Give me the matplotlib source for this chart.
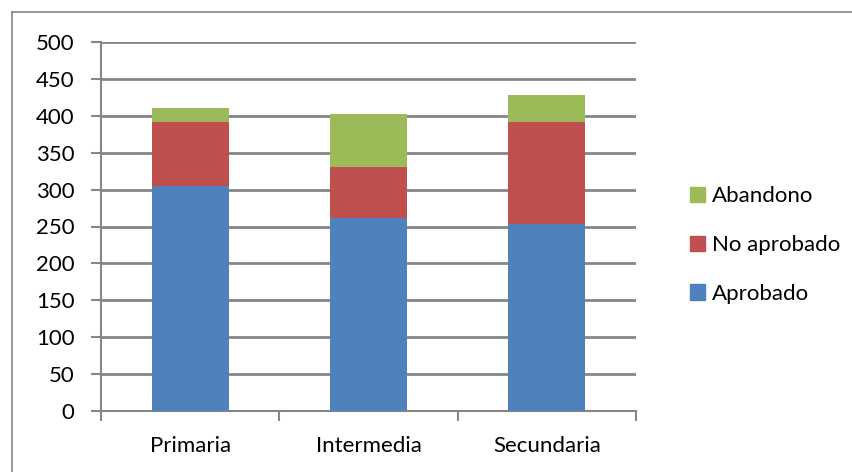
import matplotlib
matplotlib.use("Agg")
import matplotlib.pyplot as plt
from matplotlib.lines import Line2D
from matplotlib.patches import Patch
import numpy as np

categories = ["Primaria", "Intermedia", "Secundaria"]
aprobado = [305, 262, 254]
no_aprobado = [87, 68, 138]
abandono = [18, 73, 36]
yticks = [0, 50, 100, 150, 200, 250, 300, 350, 400, 450, 500]

plt.rcParams['font.family'] = ['Lato', 'DejaVu Sans']

fig = plt.figure(figsize=(8.52, 4.72), dpi=100)
ax = fig.add_axes([101/852, 1-411/472, 535/852, 369/472])

c_blue = "#4f81bd"
c_red = "#c0504d"
c_green = "#9bbb59"
grid_c = "#868686"

x = np.arange(len(categories))
w = 0.43
a = np.array(aprobado); n = np.array(no_aprobado); b = np.array(abandono)
ax.bar(x, a, w, color=c_blue, zorder=3, label="Aprobado")
ax.bar(x, n, w, bottom=a, color=c_red, zorder=3, label="No aprobado")
ax.bar(x, b, w, bottom=a+n, color=c_green, zorder=3, label="Abandono")

ax.set_xlim(-0.5, 2.5)
ax.set_ylim(0, 500)
ax.set_yticks(yticks)
ax.yaxis.grid(True, color=grid_c, linewidth=2, zorder=0)
ax.set_axisbelow(True)

ax.set_xticks(x)
ax.set_xticklabels(categories, fontsize=16)
ax.tick_params(axis='x', length=0, pad=18)
ax.set_xticks([-0.5, 0.5, 1.5, 2.5], minor=True)
ax.tick_params(axis='x', which='minor', length=7, width=1.5, color=grid_c)
ax.tick_params(axis='y', length=7, width=1.5, color=grid_c, labelsize=16, pad=12)

for s in ['top', 'right']:
    ax.spines[s].set_visible(False)
for s in ['left', 'bottom']:
    ax.spines[s].set_color(grid_c)
    ax.spines[s].set_linewidth(1.5)

handles = [Patch(color=c_green), Patch(color=c_red), Patch(color=c_blue)]
labels = ["Abandono", "No aprobado", "Aprobado"]
fig.legend(handles, labels, loc='center left', bbox_to_anchor=(670/852, 1-245/472),
           frameon=False, fontsize=16, handlelength=0.68, handleheight=0.68,
           handletextpad=0.3, labelspacing=1.3)

# outer border
fig.add_artist(Line2D([12/852, 1], [1-12/472, 1-12/472], color=grid_c, linewidth=1.2, transform=fig.transFigure))
fig.add_artist(Line2D([12/852, 12/852], [0, 1-12/472], color=grid_c, linewidth=1.2, transform=fig.transFigure))

fig.savefig("out.png", dpi=100)
